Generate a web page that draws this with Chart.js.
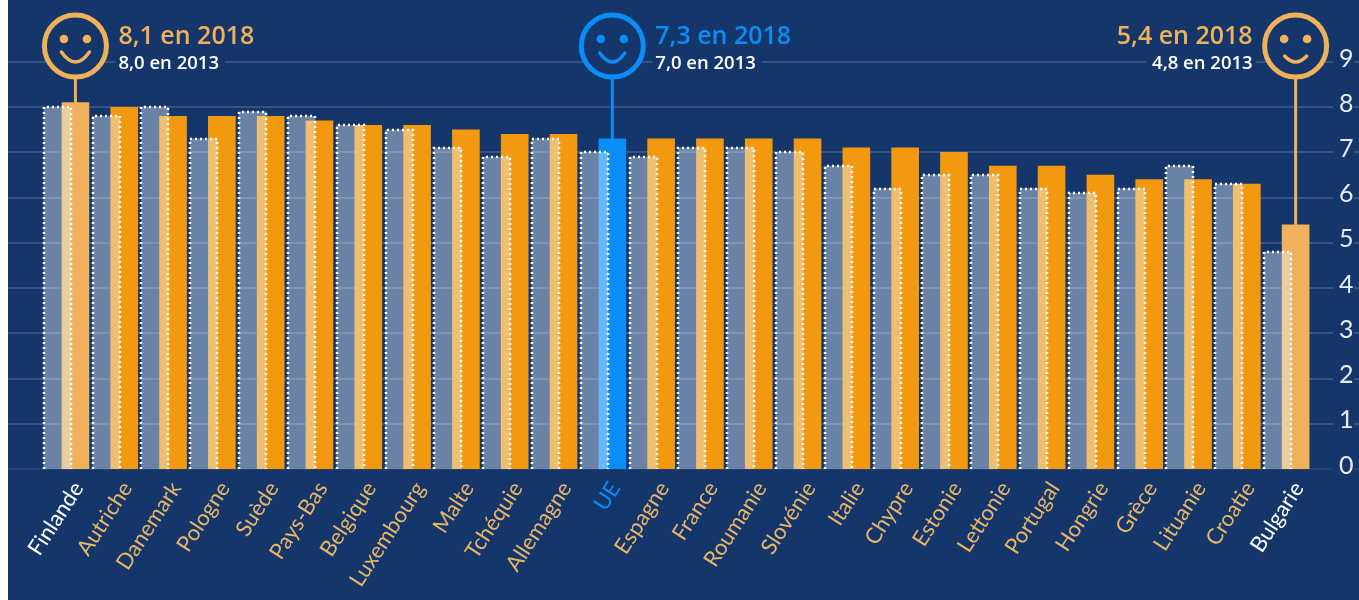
<!DOCTYPE html>
<html>
<head>
<meta charset="utf-8">
<script src="https://cdn.jsdelivr.net/npm/chart.js@4"></script>
<style>
  html, body { margin: 0; padding: 0; background: #14366b; }
  #wrap { width: 1359px; height: 600px; position: relative; }
</style>
</head>
<body>
<div id="wrap"><canvas id="chart" width="1359" height="600"></canvas></div>
<script>
const countries = ['Finlande', 'Autriche', 'Danemark', 'Pologne', 'Suède', 'Pays-Bas', 'Belgique', 'Luxembourg', 'Malte', 'Tchéquie', 'Allemagne', 'UE', 'Espagne', 'France', 'Roumanie', 'Slovénie', 'Italie', 'Chypre', 'Estonie', 'Lettonie', 'Portugal', 'Hongrie', 'Grèce', 'Lituanie', 'Croatie', 'Bulgarie'];
const values2018 = [8.1, 8.0, 7.8, 7.8, 7.8, 7.7, 7.6, 7.6, 7.5, 7.4, 7.4, 7.3, 7.3, 7.3, 7.3, 7.3, 7.1, 7.1, 7.0, 6.7, 6.7, 6.5, 6.4, 6.4, 6.3, 5.4];
const values2013 = [8.0, 7.8, 8.0, 7.3, 7.9, 7.8, 7.6, 7.5, 7.1, 6.9, 7.3, 7.0, 6.9, 7.1, 7.1, 7.0, 6.7, 6.2, 6.5, 6.5, 6.2, 6.1, 6.2, 6.7, 6.3, 4.8];
const callouts = [
  { name: 'Finlande', top: '8,1 en 2018', sub: '8,0 en 2013', side: 'right', mouth: 14, mouthY: 6 },
  { name: 'UE', top: '7,3 en 2018', sub: '7,0 en 2013', side: 'right', mouth: 12.5, mouthY: 7 },
  { name: 'Bulgarie', top: '5,4 en 2018', sub: '4,8 en 2013', side: 'left', mouth: 11, mouthY: 10 }
];

const BG = '#14366b';
const ORANGE = '#f3990f';
const GOLD = '#efb159';
const BLUE = '#0a8ef5';
const AXIS_FONT = 'Lato, sans-serif';
const TEXT_FONT = '"Open Sans", sans-serif';
const BAR_SHIFT = 0.185;

function barColor(name) {
  if (name === 'UE') return BLUE;
  return name === 'Finlande' || name === 'Bulgarie' ? GOLD : ORANGE;
}
function labelColor(name) {
  if (name === 'UE') return BLUE;
  return name === 'Finlande' || name === 'Bulgarie' ? '#ffffff' : '#e9b567';
}

// page background, white strip on the left, then the gridlines
const backdropPlugin = {
  id: 'backdrop',
  beforeDraw(chart) {
    const { ctx, width, height } = chart;
    ctx.save();
    ctx.fillStyle = '#ffffff';
    ctx.fillRect(0, 0, 8, height);
    ctx.fillStyle = BG;
    ctx.fillRect(8, 0, width - 8, height);
    ctx.restore();
  },
  beforeDatasetsDraw(chart) {
    const { ctx, width, scales } = chart;
    ctx.save();
    ctx.lineWidth = 1.5;
    scales.y.ticks.forEach(t => {
      const y = Math.round(scales.y.getPixelForValue(t.value));
      ctx.strokeStyle = t.value === 0 ? 'rgba(255,255,255,0.08)' : 'rgba(255,255,255,0.2)';
      ctx.beginPath();
      ctx.moveTo(8, y); ctx.lineTo(1333, y);
      ctx.moveTo(1354, y); ctx.lineTo(width, y);
      ctx.stroke();
    });
    ctx.restore();
  }
};

// dotted white outline of the 2013 bars, chart.js bars can't dash their border
const dottedPlugin = {
  id: 'dotted',
  afterDatasetsDraw(chart) {
    const { ctx } = chart;
    chart.getDatasetMeta(0).data.forEach(bar => {
      const left = Math.round(bar.x - bar.width / 2), right = Math.round(bar.x + bar.width / 2);
      const top = Math.round(bar.y);
      ctx.save();
      ctx.strokeStyle = '#ffffff';
      ctx.lineWidth = 2.5;
      ctx.setLineDash([2, 3]);
      ctx.beginPath();
      ctx.moveTo(left, bar.base);
      ctx.lineTo(left, top);
      ctx.lineTo(right, top);
      ctx.lineTo(right, bar.base);
      ctx.stroke();
      ctx.restore();
    });
  }
};

// smileys and their captions
const calloutPlugin = {
  id: 'callouts',
  afterDraw(chart) {
    const { ctx } = chart;
    const meta = chart.getDatasetMeta(1);
    callouts.forEach(c => {
      const bar = meta.data[countries.indexOf(c.name)];
      const color = c.name === 'UE' ? BLUE : GOLD;
      const cx = bar.x, cy = 46, r = 31;
      const dir = c.side === 'right' ? 1 : -1;
      const textX = cx + dir * 43;

      ctx.save();
      ctx.textAlign = dir > 0 ? 'left' : 'right';
      ctx.font = '600 18.5px ' + TEXT_FONT;
      const subW = ctx.measureText(c.sub).width;
      ctx.fillStyle = BG;
      ctx.fillRect(dir > 0 ? textX - 3 : textX - subW - 6, 53, subW + 9, 18);
      ctx.fillStyle = '#ffffff';
      ctx.fillText(c.sub, textX, 69);
      ctx.font = '600 25px ' + TEXT_FONT;
      ctx.fillStyle = color;
      ctx.fillText(c.top, textX, 44);

      ctx.strokeStyle = color;
      ctx.lineWidth = 3;
      ctx.beginPath();
      ctx.moveTo(cx, cy + r);
      ctx.lineTo(cx, bar.y);
      ctx.stroke();

      ctx.lineWidth = 5;
      ctx.fillStyle = BG;
      ctx.beginPath();
      ctx.arc(cx, cy, r, 0, Math.PI * 2);
      ctx.fill();
      ctx.stroke();

      ctx.fillStyle = color;
      [-11.5, 11.5].forEach(dx => {
        ctx.beginPath();
        ctx.arc(cx + dx, cy - 7, 4.3, 0, Math.PI * 2);
        ctx.fill();
      });
      ctx.lineWidth = 3.5;
      ctx.lineCap = 'round';
      ctx.beginPath();
      ctx.moveTo(cx - c.mouth, cy + c.mouthY);
      ctx.quadraticCurveTo(cx, cy + 32 - c.mouthY, cx + c.mouth, cy + c.mouthY);
      ctx.stroke();
      ctx.restore();
    });
  }
};

new Chart(document.getElementById('chart'), {
  type: 'bar',
  data: {
    datasets: [
      {
        label: '2013',
        data: values2013.map((v, i) => ({ x: i - BAR_SHIFT, y: v })),
        backgroundColor: 'rgba(235,245,255,0.4)',
        barThickness: 27
      },
      {
        label: '2018',
        data: values2018.map((v, i) => ({ x: i + BAR_SHIFT, y: v })),
        backgroundColor: countries.map(barColor),
        barThickness: 27
      }
    ]
  },
  options: {
    responsive: false,
    animation: false,
    grouped: false,
    layout: { padding: { left: 42, top: 62, right: 0, bottom: 0 } },
    plugins: { legend: { display: false }, tooltip: { enabled: false } },
    scales: {
      x: {
        type: 'linear',
        offset: false,
        min: -0.5,
        max: countries.length - 0.5,
        grid: { display: false },
        border: { display: false },
        afterBuildTicks: s => { s.ticks = countries.map((_, i) => ({ value: i })); },
        afterFit: s => { s.height = 131; s.paddingLeft = 0; s.paddingRight = 0; },
        ticks: {
          autoSkip: false,
          minRotation: 57,
          maxRotation: 57,
          padding: 0,
          labelOffset: 12,
          callback: v => countries[v],
          color: c => labelColor(countries[c.tick.value]),
          font: { family: AXIS_FONT, size: 22 }
        }
      },
      y: {
        position: 'right',
        min: 0,
        max: 9,
        grid: { display: false },
        border: { display: false },
        afterFit: s => { s.width = 48; s.paddingTop = 0; s.paddingBottom = 0; },
        ticks: {
          stepSize: 1,
          padding: 20,
          labelOffset: -3.5,
          color: '#e8edf5',
          font: { family: AXIS_FONT, size: 25 }
        }
      }
    }
  },
  plugins: [backdropPlugin, dottedPlugin, calloutPlugin]
});
</script>
</body>
</html>
